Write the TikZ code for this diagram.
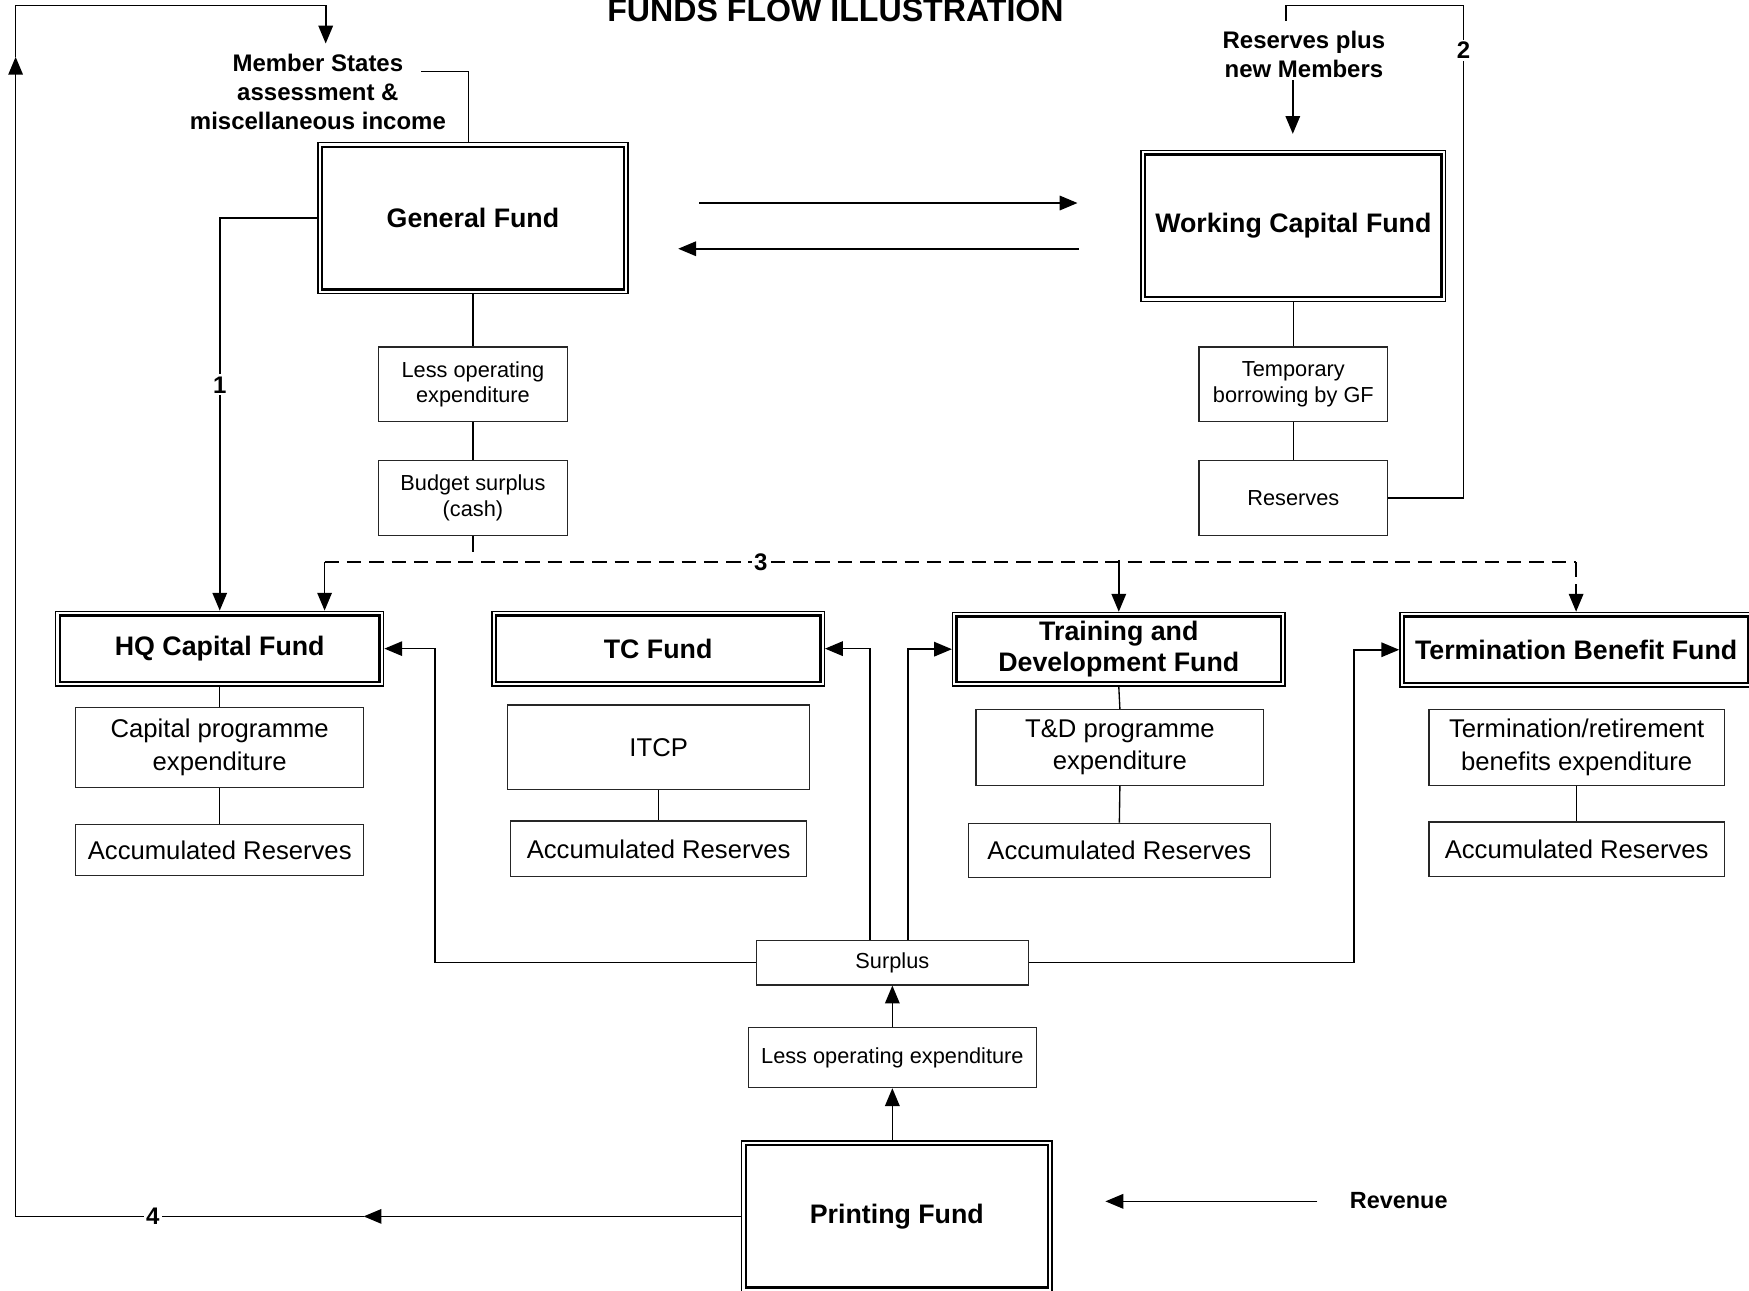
\documentclass[tikz,border=0pt]{standalone}
\usepackage{fontspec}
\setmainfont{Liberation Sans}
\usetikzlibrary{arrows.meta}
\begin{document}
\begin{tikzpicture}[x=1pt,y=-1pt,
  conn/.style={line width=1.5pt},
  thin/.style={line width=1.2pt},
  arr/.style={conn,-{Triangle[length=16pt,width=13pt]}},
  tbox/.style={draw=black!85,line width=1.1pt,inner sep=0pt,align=center,
    font=\fontsize{19.5}{23}\selectfont},
  abox/.style={tbox,font=\fontsize{23}{29}\selectfont},
  fund/.style={draw,line width=1.2pt,inner sep=0pt,align=center,
    font=\bfseries\fontsize{24}{28}\selectfont,
    path picture={\draw[line width=2.2pt]
      ([shift={(3.6,3.6)}]path picture bounding box.north west) rectangle
      ([shift={(-3.6,-3.6)}]path picture bounding box.south east);}},
  lbl/.style={font=\bfseries\fontsize{21.5}{26}\selectfont,align=center,inner sep=1pt},
  num/.style={lbl,fill=white,inner sep=2pt}]
\useasboundingbox (0,0) rectangle (1568,1157);
\clip (0,0) rectangle (1568,1157);

% title
\node[anchor=base,font=\bfseries\fontsize{28.8}{32}\selectfont,inner sep=0pt] (title) at (749,19.7) {FUNDS FLOW ILLUSTRATION};

% fund boxes
\node[fund,minimum width=278,minimum height=135] (GF) at (424,195.5) {General Fund};
\node[fund,minimum width=273,minimum height=135] (WCF) at (1159.5,202.5) {Working Capital Fund};
\node[fund,minimum width=294,minimum height=67] (HQ) at (197,581.5) {HQ Capital Fund};
\node[fund,minimum width=298,minimum height=67] (TC) at (590,581.5) {TC Fund};
\node[fund,minimum width=298,minimum height=66] (TDF) at (1003,582) {Training and\\Development Fund};
\node[fund,minimum width=316,minimum height=67] (TBF) at (1413,582.5) {Termination Benefit Fund};
\node[fund,minimum width=278,minimum height=135] (PF) at (804,1090.5) {Printing Fund};

% small boxes
\node[tbox,minimum width=170,minimum height=67] (LOE1) at (424,344.5) {Less operating\\expenditure};
\node[tbox,minimum width=170,minimum height=67] (BS) at (424,446.5) {Budget surplus\\(cash)};
\node[tbox,minimum width=169,minimum height=67] (TB) at (1159.5,344.5) {Temporary\\borrowing by GF};
\node[tbox,minimum width=169,minimum height=67] (RES) at (1159.5,446.5) {Reserves};
\node[abox,minimum width=258,minimum height=72] (CPE) at (197,670) {Capital programme\\expenditure};
\node[abox,minimum width=258,minimum height=46] (AR1) at (197,762) {Accumulated Reserves};
\node[abox,minimum width=271,minimum height=76] (ITCP) at (590.5,670) {ITCP};
\node[abox,minimum width=265,minimum height=50] (AR2) at (590.5,761) {Accumulated Reserves};
\node[abox,minimum width=258,minimum height=68] (TDE) at (1004,670) {T\&D programme\\expenditure};
\node[abox,minimum width=271,minimum height=49] (AR3) at (1003.5,762.5) {Accumulated Reserves};
\node[abox,minimum width=265,minimum height=68] (TRE) at (1413.5,670) {Termination/retirement\\benefits expenditure};
\node[abox,minimum width=265,minimum height=49] (AR4) at (1413.5,761.5) {Accumulated Reserves};
\node[tbox,minimum width=244,minimum height=40] (SUR) at (800,863) {Surplus};
\node[tbox,minimum width=258,minimum height=54] (LOE2) at (800,948) {Less operating expenditure};

% free labels
\node[lbl] (MS) at (285,82) {Member States\\assessment \&\\miscellaneous income};
\node[lbl] (RPN) at (1169,49) {Reserves plus\\new Members};
\node[lbl,font=\bfseries\fontsize{21}{25}\selectfont] (REV) at (1254,1076) {Revenue};

% vertical chains
\draw[thin] (GF.south) -- (LOE1.north);
\draw[thin] (LOE1.south) -- (BS.north);
\coordinate (bsend) at (424,495);
\draw[thin] (BS.south) -- (bsend);
\draw[thin] (WCF.south) -- (TB.north);
\draw[thin] (TB.south) -- (RES.north);
\draw[thin] (HQ.south) -- (CPE.north);
\draw[thin] (CPE.south) -- (AR1.north);
\draw[thin] (ITCP.south) -- (AR2.north);
\draw[thin] (TDF.south) -- (TDE.north);
\draw[thin] (TDE.south) -- (AR3.north);
\draw[thin] (TRE.south) -- (AR4.north);

% GF <-> WCF
\coordinate (a1s) at (627,182); \coordinate (a1e) at (966,182);
\coordinate (a2s) at (967,223); \coordinate (a2e) at (608,223);
\draw[arr] (a1s) -- (a1e);
\draw[arr] (a2s) -- (a2e);

% Member States connector
\coordinate (msend) at (377,64);
\draw[thin] (GF.north -| 420,0) -- (420,64) -- (msend);

% reserves loop (2)
\coordinate (rpntop) at (1153,19);
\draw[conn] (RES.east) -- (1312,446.5) -- (1312,5) -- (1153,5) -- (rpntop);
\node[num] (n2) at (1312,45) {2};
\coordinate (rpnb) at (1159,72); \coordinate (wcfin) at (1159,120);
\draw[arr] (rpnb) -- (wcfin);

% 1
\draw[arr] (GF.west) -| (HQ.north);
\node[num] (n1) at (197,345) {1};

% 3 dashed distribution
\coordinate (dl) at (291,504);
\coordinate (dr) at (1413,504);
\draw[conn,dash pattern=on 13pt off 7pt] (dl) -- (dr);
\draw[arr] (dl) -- (HQ.north -| dl);
\draw[arr,dash pattern=on 13pt off 7pt] (dr) -- (TBF.north -| dr);
\draw[arr] (1003,502) -- (TDF.north);
\node[num] (n3) at (682,504) {3};

% printing fund chain
\draw[arr] (LOE2.south |- PF.north) -- (LOE2.south);
\draw[arr] (LOE2.north) -- (SUR.south);

% surplus distribution
\draw[arr] (SUR.west) -| (HQ.east -| 390,0) -- (HQ.east);
\draw[arr] (SUR.north -| 780,0) |- (TC.east);
\draw[arr] (SUR.north -| 814,0) |- (TDF.west);
\draw[arr] (SUR.east) -| (TBF.west -| 1214,0) -- (TBF.west);

% revenue
\coordinate (revs) at (1181,1077); \coordinate (reve) at (991,1077);
\draw[arr] (revs) -- (reve);

% loop 4
\coordinate (c4a) at (326,1090.5);
\coordinate (c4b) at (14,51);
\coordinate (msin) at (292,39);
\draw[arr] (PF.west) -- (c4a);
\draw[arr] (c4a) -- (14,1090.5) -- (c4b);
\draw[arr] (c4b) -- (14,5) -- (292,5) -- (msin);
\node[num] (n4) at (137,1090.5) {4};
\end{tikzpicture}
\end{document}
